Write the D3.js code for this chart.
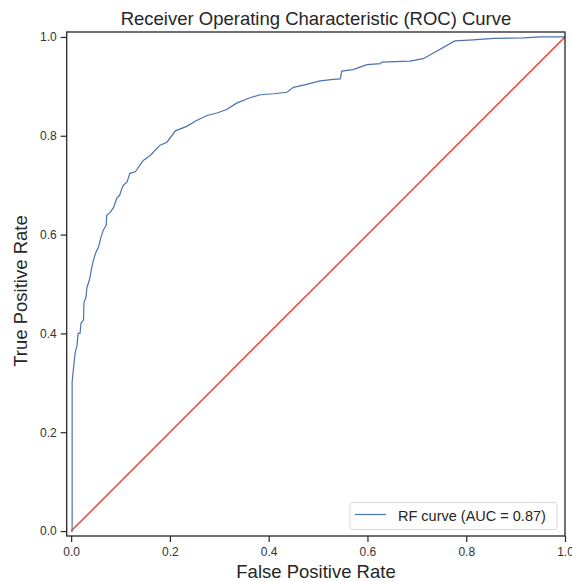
<!DOCTYPE html>
<html><head><meta charset="utf-8">
<script src="https://cdn.jsdelivr.net/npm/d3@7"></script>
<style>body{margin:0;background:#fff;} text{font-family:"Liberation Sans",Arial,sans-serif;}</style>
</head><body><svg id="c" width="572" height="581"></svg>
<script>
const fpr = [0,0.002,0.002,0.002,0.004,0.008,0.012,0.014,0.018,0.020,0.025,0.026,0.030,0.032,0.037,0.042,0.045,0.050,0.055,0.060,0.065,0.071,0.072,0.079,0.086,0.093,0.098,0.103,0.106,0.113,0.119,0.130,0.146,0.160,0.180,0.194,0.211,0.234,0.254,0.275,0.295,0.315,0.335,0.362,0.383,0.410,0.437,0.450,0.477,0.504,0.531,0.545,0.548,0.571,0.585,0.599,0.626,0.629,0.686,0.713,0.777,0.814,0.855,0.916,0.949,1.0];
const tpr = [0,0,0.081,0.301,0.322,0.360,0.376,0.400,0.400,0.421,0.427,0.463,0.473,0.493,0.508,0.534,0.548,0.564,0.574,0.593,0.609,0.619,0.639,0.645,0.655,0.675,0.679,0.694,0.700,0.706,0.724,0.727,0.750,0.760,0.781,0.787,0.810,0.819,0.831,0.841,0.846,0.853,0.866,0.877,0.883,0.885,0.888,0.898,0.904,0.911,0.914,0.915,0.931,0.934,0.939,0.944,0.946,0.949,0.951,0.956,0.992,0.994,0.997,0.998,1.0,1.0];
const diagX = [0,1];
const diagY = [0,1];
const ticks = [0,0.2,0.4,0.6,0.8,1.0];
const tickLabels = ["0.0","0.2","0.4","0.6","0.8","1.0"];
const legendLabel = "RF curve (AUC = 0.87)";

const svg = d3.select("#c");
const L=66.7, R=565, T=32, B=536;
const x = d3.scaleLinear().domain([-0.009,1.0]).range([L,R]);
const y = d3.scaleLinear().domain([-0.01,1.01]).range([B,T]);
const ink="#262626";

const gx = svg.append("g").attr("transform",`translate(0,${B})`)
  .call(d3.axisBottom(x).tickValues(ticks).tickFormat((d,i)=>tickLabels[i]).tickSize(6).tickPadding(5));
const gy = svg.append("g").attr("transform",`translate(${L},0)`)
  .call(d3.axisLeft(y).tickValues(ticks).tickFormat((d,i)=>tickLabels[i]).tickSize(6).tickPadding(4));
[gx,gy].forEach(g=>{
  g.select(".domain").remove();
  g.selectAll(".tick line").attr("stroke",ink).attr("stroke-width",1.2);
  g.selectAll(".tick text").attr("fill","#333").style("font-size","12px").style("font-family","'Liberation Sans',Arial,sans-serif");
});

const line = d3.line().x(d=>x(d[0])).y(d=>y(d[1]));
svg.append("path").datum(diagX.map((v,i)=>[v,diagY[i]])).attr("d",line)
  .attr("fill","none").attr("stroke","#ff3030").attr("stroke-width",1.4);
svg.append("path").datum(fpr.map((v,i)=>[v,tpr[i]])).attr("d",line)
  .attr("fill","none").attr("stroke","#4c72b0").attr("stroke-width",1.2).attr("stroke-linejoin","miter");

svg.append("rect").attr("x",L).attr("y",T).attr("width",R-L).attr("height",B-T)
  .attr("fill","none").attr("stroke",ink).attr("stroke-width",1.3);

svg.append("text").attr("x",316).attr("y",25).attr("text-anchor","middle")
  .attr("fill",ink).style("font-size","18.5px").text("Receiver Operating Characteristic (ROC) Curve");
svg.append("text").attr("x",316).attr("y",578).attr("text-anchor","middle")
  .attr("fill",ink).style("font-size","18.5px").text("False Positive Rate");
svg.append("text").attr("transform",`translate(27,${(T+B)/2 + 7}) rotate(-90)`).attr("text-anchor","middle")
  .attr("fill",ink).style("font-size","18.5px").text("True Positive Rate");

const lg = svg.append("g");
lg.append("rect").attr("x",350).attr("y",502.5).attr("width",207).attr("height",27).attr("rx",3)
  .attr("fill","#fff").attr("fill-opacity",0.8).attr("stroke","#d9d9d9").attr("stroke-width",1);
lg.append("line").attr("x1",355).attr("x2",386).attr("y1",514.5).attr("y2",514.5)
  .attr("stroke","#4c72b0").attr("stroke-width",1.2);
lg.append("text").attr("x",398).attr("y",520.5).attr("fill",ink).style("font-size","14.5px").text(legendLabel);
</script></body></html>
